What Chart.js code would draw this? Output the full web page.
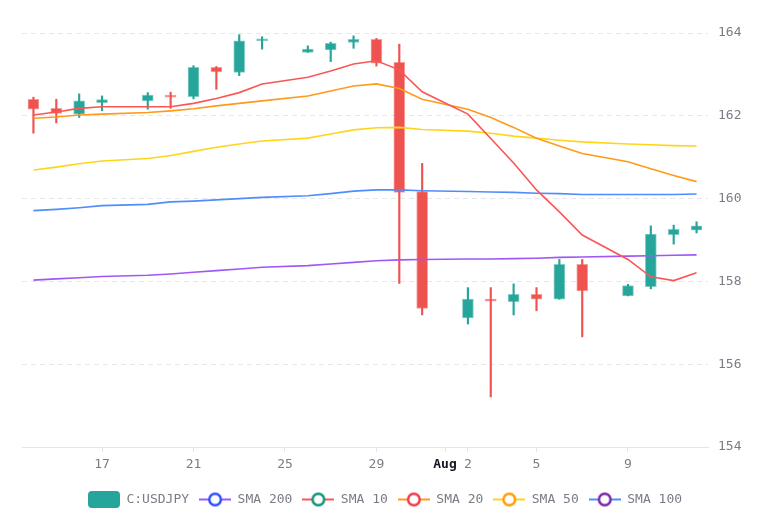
<!DOCTYPE html>
<html>
<head>
<meta charset="utf-8">
<script src="https://cdn.jsdelivr.net/npm/chart.js@4.4.0/dist/chart.umd.min.js"></script>
<style>
html,body{margin:0;padding:0;background:#ffffff;}
#wrap{width:770px;height:514px;position:relative;}
</style>
</head>
<body>
<div id="wrap"><canvas id="c"></canvas></div>
<script>
// Day index: July d -> d, August d -> 31 + d
const days   = [14,15,16,17,19,20,21,22,23,24,26,27,28,29,30,31,33,34,35,36,37,38,40,41,42,43];
const opens  = [162.40,162.18,162.04,162.32,162.36,162.50,162.46,163.17,163.05,163.81,163.53,163.59,163.77,163.85,163.29,160.17,157.12,157.57,157.51,157.69,157.57,158.41,157.65,157.87,159.13,159.24];
const highs  = [162.45,162.40,162.53,162.48,162.56,162.57,163.21,163.19,163.96,163.91,163.69,163.78,163.93,163.87,163.73,160.85,157.85,157.85,157.94,157.85,158.53,158.53,157.93,159.34,159.36,159.44];
const lows   = [161.58,161.83,161.96,162.12,162.16,162.18,162.41,162.64,162.97,163.61,163.53,163.31,163.63,163.20,157.95,157.19,156.97,155.21,157.19,157.29,157.57,156.66,157.65,157.82,158.90,159.17];
const closes = [162.16,162.06,162.36,162.39,162.50,162.45,163.17,163.06,163.81,163.86,163.61,163.75,163.85,163.27,160.15,157.35,157.57,157.52,157.69,157.57,158.41,157.77,157.90,159.14,159.26,159.34];

const sma10  = [162.02,162.09,162.18,162.22,162.22,162.22,162.30,162.42,162.56,162.77,162.93,163.08,163.25,163.33,163.11,162.58,162.04,161.45,160.86,160.21,159.68,159.12,158.53,158.11,158.02,158.21];
const sma20  = [161.94,161.97,162.02,162.04,162.08,162.12,162.17,162.24,162.30,162.36,162.48,162.60,162.72,162.77,162.66,162.40,162.16,161.96,161.72,161.46,161.27,161.09,160.89,160.72,160.56,160.41];
const sma50  = [160.69,160.76,160.84,160.91,160.97,161.04,161.14,161.24,161.32,161.39,161.46,161.56,161.66,161.71,161.72,161.67,161.63,161.58,161.51,161.46,161.41,161.37,161.32,161.30,161.28,161.27];
const sma100 = [159.71,159.74,159.78,159.83,159.86,159.92,159.94,159.97,160.00,160.03,160.07,160.12,160.18,160.21,160.21,160.19,160.17,160.16,160.15,160.13,160.12,160.10,160.10,160.10,160.10,160.11];
const sma200 = [158.03,158.06,158.09,158.12,158.15,158.18,158.22,158.26,158.30,158.34,158.38,158.42,158.46,158.50,158.52,158.53,158.54,158.54,158.55,158.56,158.58,158.59,158.61,158.62,158.63,158.64];

const tickDays   = [17,21,25,29,32,33,36,40];
const tickLabels = ['17','21','25','29','Aug','2','5','9'];
const yTicks     = [154,156,158,160,162,164];

const legendNames = ['C:USDJPY','SMA 200','SMA 10','SMA 20','SMA 50','SMA 100'];

const UP = '#26a69a', DOWN = '#ef5350';
const UP_EDGE = 'rgba(38,166,154,0.55)', DOWN_EDGE = 'rgba(239,83,80,0.55)';
const C_RED = '#fb5656', C_ORANGE = '#ff9a1a', C_YELLOW = '#ffd51c', C_BLUE = '#4f8dfb', C_PURPLE = '#a157f5';
const TEXT = '#7a7d86';
const FONT = "'DejaVu Sans Mono', monospace";

const isUp = (i) => closes[i] >= opens[i];

function lineCircle(lineColor, circleColor) {
  const cv = document.createElement('canvas');
  cv.width = 32; cv.height = 16;
  const g = cv.getContext('2d');
  g.strokeStyle = lineColor; g.lineWidth = 2;
  g.beginPath(); g.moveTo(0, 8); g.lineTo(32, 8); g.stroke();
  g.beginPath(); g.arc(16, 8, 5.8, 0, Math.PI * 2);
  g.fillStyle = '#ffffff'; g.fill();
  g.strokeStyle = circleColor; g.lineWidth = 2.4; g.stroke();
  return cv;
}
function roundBox(color) {
  const cv = document.createElement('canvas');
  cv.width = 32; cv.height = 17;
  const g = cv.getContext('2d');
  g.fillStyle = color;
  g.beginPath();
  if (g.roundRect) g.roundRect(0, 0, 32, 17, 4); else g.rect(0, 0, 32, 17);
  g.fill();
  return cv;
}
const legendIcons = [
  roundBox(UP),
  lineCircle(C_PURPLE, '#2a4bff'),
  lineCircle(C_RED, '#0a8f78'),
  lineCircle(C_ORANGE, '#f23645'),
  lineCircle(C_YELLOW, '#ff9800'),
  lineCircle(C_BLUE, '#7420a8')
];

const pts = (arr) => days.map((d, i) => ({x: d, y: arr[i]}));

function lineDs(label, arr, color) {
  return {
    type: 'line', label, data: pts(arr), borderColor: color, backgroundColor: color,
    borderWidth: 1.6, pointRadius: 0, pointHoverRadius: 0, tension: 0, order: 0, fill: false,
    xAxisID: 'x', yAxisID: 'y'
  };
}

const datasets = [
  {
    type: 'bar', label: 'wick',
    data: days.map((d, i) => ({x: d, y: [lows[i], highs[i]]})),
    backgroundColor: days.map((d, i) => isUp(i) ? UP : DOWN),
    borderWidth: 0, barThickness: 1.5, grouped: false, order: 20,
    xAxisID: 'x', yAxisID: 'y'
  },
  {
    type: 'bar', label: 'C:USDJPY',
    data: days.map((d, i) => ({x: d, y: [opens[i], closes[i]]})),
    backgroundColor: days.map((d, i) => isUp(i) ? UP : DOWN),
    borderColor: days.map((d, i) => isUp(i) ? UP_EDGE : DOWN_EDGE),
    borderWidth: 1, borderSkipped: false, barThickness: 11, grouped: false, order: 10,
    xAxisID: 'x', yAxisID: 'y'
  },
  lineDs('SMA 10', sma10, C_RED),
  lineDs('SMA 20', sma20, C_ORANGE),
  lineDs('SMA 50', sma50, C_YELLOW),
  lineDs('SMA 100', sma100, C_BLUE),
  lineDs('SMA 200', sma200, C_PURPLE)
];

Chart.defaults.font.family = FONT;
Chart.defaults.font.size = 13;
Chart.defaults.color = TEXT;

new Chart(document.getElementById('c'), {
  type: 'bar',
  data: {datasets},
  options: {
    responsive: true,
    maintainAspectRatio: false,
    animation: false,
    events: [],
    layout: {padding: {left: 0, top: 33, right: 0, bottom: -2}},
    plugins: {
      tooltip: {enabled: false},
      legend: {
        position: 'bottom',
        labels: {
          usePointStyle: true,
          pointStyleWidth: 32,
          padding: 10,
          color: TEXT,
          font: {family: FONT, size: 13},
          generateLabels: () => legendNames.map((name, i) => ({
            text: name, pointStyle: legendIcons[i], fillStyle: '#fff', strokeStyle: '#fff',
            lineWidth: 0, hidden: false, datasetIndex: i, fontColor: TEXT
          }))
        }
      }
    },
    scales: {
      x: {
        type: 'linear',
        min: 13.5, max: 43.5,
        offset: false,
        afterBuildTicks: (s) => { s.ticks = tickDays.map(v => ({value: v})); },
        afterFit: (s) => { s.height = 36; },
        ticks: {
          autoSkip: false, maxRotation: 0, padding: 5,
          callback: (v) => { const k = tickDays.indexOf(v); return k >= 0 ? tickLabels[k] : ''; },
          font: (c) => ({family: FONT, size: 13, weight: (c.tick && c.tick.value === 32) ? 'bold' : 'normal'}),
          color: (c) => (c.tick && c.tick.value === 32) ? '#131722' : TEXT
        },
        grid: {drawOnChartArea: false, drawTicks: true, tickLength: 5, color: '#e3e5ea', offset: false},
        border: {display: true, color: '#e3e5ea', width: 1}
      },
      y: {
        type: 'linear',
        position: 'right',
        min: 154, max: 164,
        afterBuildTicks: (s) => { s.ticks = yTicks.map(v => ({value: v})); },
        afterFit: (s) => { s.width = 62; },
        ticks: {padding: 10, color: TEXT, font: {family: FONT, size: 13}},
        grid: {drawTicks: false, color: '#e6e7ea', lineWidth: 1},
        border: {display: false, dash: [5, 4]}
      },
      yPad: {
        type: 'linear',
        position: 'left',
        display: true,
        min: 0, max: 1,
        afterFit: (s) => { s.width = 22; },
        ticks: {display: false},
        grid: {display: false, drawTicks: false},
        border: {display: false}
      }
    }
  }
});
</script>
</body>
</html>
